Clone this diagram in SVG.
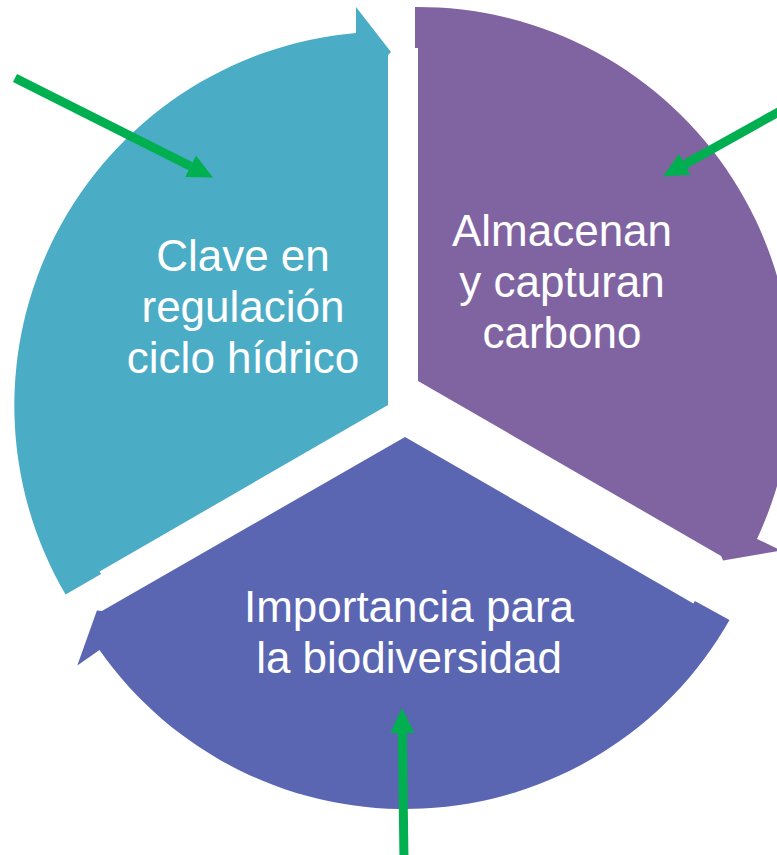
<svg xmlns="http://www.w3.org/2000/svg" width="777" height="855" viewBox="0 0 777 855">
  <style>
    .lbl { font-family: "Liberation Sans", Arial, sans-serif; font-size: 44px; fill: #FFFFFF; text-anchor: middle; }
    .ptr { stroke: #00B050; stroke-width: 9; fill: none; marker-end: url(#head); }
  </style>
  <defs>
    <marker id="head" markerUnits="userSpaceOnUse" markerWidth="26" markerHeight="26" refX="0" refY="12" orient="auto" viewBox="0 0 26 24">
      <path d="M0,0 L25,12 L0,24 Z" fill="#00B050"/>
    </marker>
  </defs>
  <rect width="777" height="855" fill="#FFFFFF"/>
  <g id="node-ciclo-hidrico">
    <path d="M388,405 L99.6,571.5 L101.1,574.1 L65.6,594.6 A374,374 0 0 1 356,33 L356,7 L391,52 L388,55 Z" fill="#4BACC6"/>
    <text class="lbl" x="243" y="271">Clave en</text>
    <text class="lbl" x="243" y="322">regulación</text>
    <text class="lbl" x="243" y="373">ciclo hídrico</text>
  </g>
  <g id="node-carbono">
    <path d="M418,381 L418,48 L415,48 L415,7 A374,374 0 0 1 757,539 L781.4,550.5 L723.1,560.6 L721.1,556 Z" fill="#8064A2"/>
    <text class="lbl" x="562" y="246">Almacenan</text>
    <text class="lbl" x="562" y="297">y capturan</text>
    <text class="lbl" x="562" y="348">carbono</text>
  </g>
  <g id="node-biodiversidad">
    <path d="M405,437 L693.4,603.5 L694.9,600.9 L729.5,620 A373,373 0 0 1 99.5,650 L77.3,665.4 L96.9,610.4 L101.9,611 Z" fill="#5A66B2"/>
    <text class="lbl" x="409" y="622">Importancia para</text>
    <text class="lbl" x="409" y="673">la biodiversidad</text>
  </g>
  <g id="connectors">
    <line class="ptr" x1="15" y1="78" x2="190.6" y2="166.2"/>
    <line class="ptr" x1="782" y1="110" x2="684.9" y2="164.3"/>
    <line class="ptr" x1="404" y1="860" x2="402.3" y2="733"/>
  </g>
</svg>
